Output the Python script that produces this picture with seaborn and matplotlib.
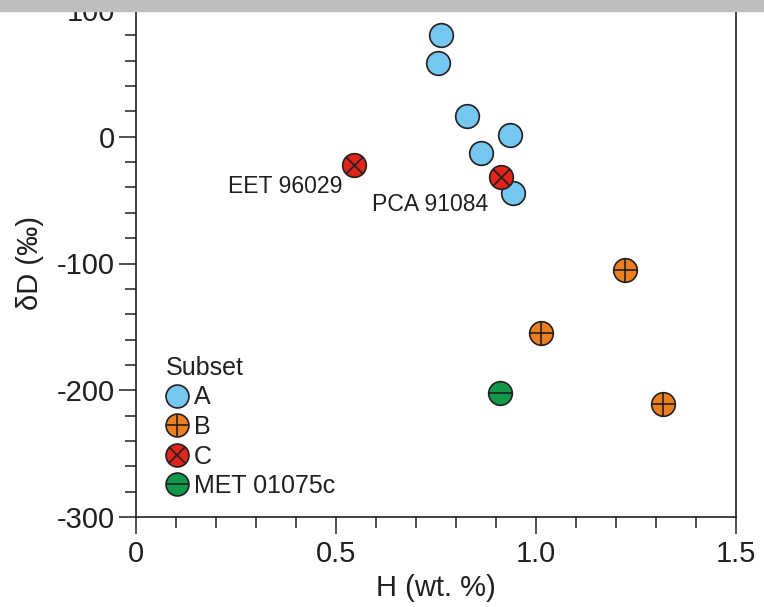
import matplotlib
matplotlib.use("Agg")
import matplotlib.pyplot as plt
from matplotlib.lines import Line2D
from matplotlib.patches import Rectangle
from matplotlib.ticker import MultipleLocator
import seaborn as sns
import pandas as pd

# ---- data ----
subset_a_h = [0.762, 0.755, 0.828, 0.935, 0.862, 0.943]
subset_a_d = [80, 58, 16, 1, -13, -44]
subset_b_h = [1.222, 1.013, 1.318]
subset_b_d = [-105, -155, -211]
subset_c_h = [0.545, 0.913]
subset_c_d = [-22, -32]
met_h = [0.91]
met_d = [-202]

labels = ["A", "B", "C", "MET 01075c"]
colors = {"A": "#75c6f0", "B": "#ec7f1f", "C": "#e1251b", "MET 01075c": "#10994a"}
glyphs = {"A": None, "B": "+", "C": "x", "MET 01075c": "_"}
annot_text = ["EET 96029", "PCA 91084"]
annot_h = [0.515, 0.59]
annot_d = [-44.5, -58.5]

df = pd.concat([
    pd.DataFrame({"H": subset_a_h, "dD": subset_a_d, "subset": "A"}),
    pd.DataFrame({"H": subset_b_h, "dD": subset_b_d, "subset": "B"}),
    pd.DataFrame({"H": met_h, "dD": met_d, "subset": "MET 01075c"}),
    pd.DataFrame({"H": subset_c_h, "dD": subset_c_d, "subset": "C"}),
], ignore_index=True)

sns.set_theme(style="white")
plt.rcParams["font.family"] = ["Liberation Sans", "DejaVu Sans"]
plt.rcParams["axes.unicode_minus"] = False
ink = "#231f20"

fig = plt.figure(figsize=(7.64, 6.07), dpi=100)
ax = fig.add_axes([136 / 764, 1 - 517 / 607, 600 / 764, 507 / 607])

S = 290
EW = 1.2
for lab in ["A", "B", "MET 01075c", "C"]:
    sub = df[df["subset"] == lab]
    sns.scatterplot(data=sub, x="H", y="dD", color=colors[lab], s=S,
                    edgecolor=ink, linewidth=EW, marker="o", ax=ax,
                    legend=False, zorder=3)
    g = glyphs[lab]
    if g is not None:
        ss = S / 2 if g == "x" else S
        ax.scatter(sub["H"], sub["dD"], marker=g, s=ss, color=ink,
                   linewidths=EW, zorder=4)

for t, x, y, ha in zip(annot_text, annot_h, annot_d, ["right", "left"]):
    ax.text(x, y, t, ha=ha, va="baseline", fontsize=16.6, color=ink)

ax.set_xlim(0, 1.5)
ax.set_ylim(-300, 100)
ax.set_xticks([0, 0.5, 1.0, 1.5])
ax.set_xticklabels(["0", "0.5", "1.0", "1.5"])
ax.set_yticks([-300, -200, -100, 0, 100])
ax.xaxis.set_minor_locator(MultipleLocator(0.1))
ax.yaxis.set_minor_locator(MultipleLocator(20))
ax.tick_params(which="major", direction="out", length=12.2, width=1.1,
               color=ink, labelsize=21, labelcolor=ink, pad=3,
               bottom=True, left=True)
ax.tick_params(axis="x", which="major", pad=4.5)
ax.tick_params(which="minor", direction="out", length=8, width=1.1,
               color=ink, bottom=True, left=True)
for sp in ax.spines.values():
    sp.set_color(ink)
    sp.set_linewidth(1.2)
    sp.set_visible(True)

ax.set_xlabel("H (wt. %)", fontsize=21, color=ink, labelpad=4.5)
ax.set_ylabel("δD (‰)", fontsize=21, color=ink, labelpad=9.5)

handles = []
for lab in labels:
    h = [Line2D([], [], marker="o", ls="", ms=16.5, mfc=colors[lab], mec=ink, mew=EW)]
    g = glyphs[lab]
    if g is not None:
        ms = 16.5 / 1.414 if g == "x" else 16.5
        h.append(Line2D([], [], marker=g, ls="", ms=ms, mec=ink, mew=EW))
        handles.append(tuple(h))
    else:
        handles.append(h[0])

leg = ax.legend(handles, labels, title="Subset", loc="upper left",
                bbox_to_anchor=(166 / 764, 1 - 356 / 607),
                bbox_transform=fig.transFigure, frameon=False,
                fontsize=18, title_fontsize=18, borderpad=0,
                labelspacing=0.22, handlelength=0.9, handletextpad=0.2,
                alignment="left", borderaxespad=0)
for t in leg.get_texts():
    t.set_color(ink)
leg.get_title().set_color(ink)

fig.patches.append(Rectangle((0, 1 - 11 / 607), 1, 11 / 607,
                             transform=fig.transFigure, color="#bebebe",
                             zorder=10))

fig.savefig("out.png", dpi=100)
